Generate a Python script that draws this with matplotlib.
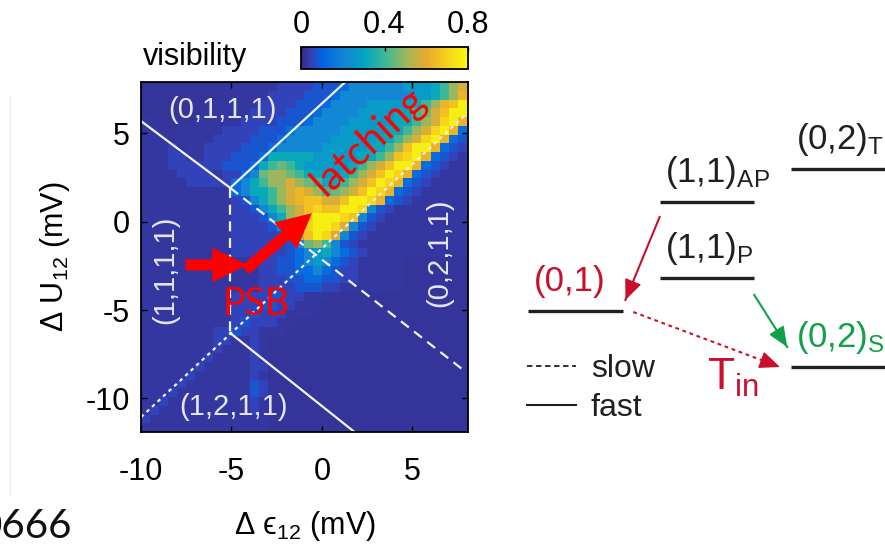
import numpy as np
import matplotlib
matplotlib.use('Agg')
import matplotlib.pyplot as plt
import matplotlib.colors as mcolors
from matplotlib.lines import Line2D

plt.rcParams['font.family'] = ['Liberation Sans', 'DejaVu Sans']
plt.rcParams['mathtext.fontset'] = 'custom'
plt.rcParams['mathtext.rm'] = 'Liberation Sans'
plt.rcParams['mathtext.it'] = 'Liberation Sans'
plt.rcParams['mathtext.default'] = 'rm'
plt.rcParams['axes.unicode_minus'] = False

# ---------------- data ----------------
# visibility map, read cell by cell (0.5 mV pixels), top row first
eps_start, eps_step, n_cols = -10.0, 0.5, 37
u_top, u_bottom, n_rows = 7.9, -11.9, 40
vis_code = {'0': .02, 'a': .026, '1': .05, 'b': .08, '2': .13, 'c': .21,
            '3': .27, 'd': .32, '4': .40, 'e': .45, '5': .50, 'f': .55,
            '6': .58, 'g': .63, '7': .66, 'h': .71, '8': .77}
vis_rows = [
    "0000000000aaaaa1111bbb2cccccc333d4565",
    "000000000aaaaa1111bbb2cccccccc33d45g8",
    "00000000aaaaa1111bbb2cccc3333dd45g787",
    "0000000aaaaa1111bbb2cccc3333dd4e6788g",
    "a00000aaaaa1111bbb2cccc33333dd456h8gc",
    "aa00aaaaa1111bbb2ccccc33333dd456h8g2b",
    "aaa0aaaa1111bbb2ccccc33333dd456h8g2b1",
    "aaa10aa1111bbb2ccccc33333dd45788g2b1a",
    "aaa11aa111bbb2ddddd33333dd457h8g2b1aa",
    "aaa111111bbb2d4e4d33333d456788g2b1aaa",
    "aaaa1111a112ce55e4dd33d45678hg2b1aaaa",
    "a" * 5 + "11111" + "2cd45565e4" + "dd" + "45678hg2b1" + "a" * 5,
    "a" * 10 + "2cdd456g654e5678hg2b1" + "a" * 6,
    "a" * 10 + "1bcd456g7766788hg2b1" + "a" * 7,
    "a" * 10 + "11bcd4567h7788hcb1" + "a" * 9,
    "a" * 10 + "111bcd56h888h7cb1" + "a" * 10,
    "a" * 10 + "1111bce6h88h6cb1" + "a" * 11,
    "a" * 10 + "11111bd578h6cb1" + "a" * 12,
    "a" * 10 + "111111bce54cb1" + "a" * 13,
    "a" * 10 + "111111b2c3dc2b1" + "a" * 12,
    "a" * 13 + "11bb2c3c2b1" + "a" * 5 + "0" * 8,
    "a" * 13 + "11bb22c2b11" + "a" * 5 + "0" * 8,
    "a" * 13 + "111bb22bb11" + "a" * 5 + "0" * 8,
    "a" * 13 + "1111bbb11" + "a" * 7 + "0" * 8,
    "a" * 10 + "1111bb11aaa" + "0" * 16,
    "a" * 10 + "111bb11aaa" + "0" * 17,
    "a" * 10 + "11b111aaa" + "0" * 18,
    "a" * 10 + "1b111aa" + "0" * 20,
    "a" * 8 + "11b11aaa" + "0" * 21,
    "a" * 8 + "11aa1a" + "0" * 23,
    "a" * 7 + "a1aaa1a" + "0" * 23,
    "a" * 6 + "a1aaaa1a" + "0" * 23,
    "a" * 5 + "a1aaaaa11" + "0" * 23,
    "a" * 4 + "a1aaaaaa1a" + "0" * 23,
    "a" * 3 + "a1aaaaaaab1" + "0" * 23,
    "a" * 2 + "a1aaaaaaaab1" + "0" * 23,
    "a" + "a1aaaaaaaaa1a" + "0" * 23,
    "a1aaaaaaaaaa1a" + "0" * 23,
    "1aaaaaaaaaaaaa" + "0" * 23,
    "a" * 14 + "0" * 23,
]

x_ticks = [-10, -5, 0, 5]
y_ticks = [-10, -5, 0, 5]
cbar_ticks = [0, 0.4, 0.8]
cbar_ticklabels = ['0', '0.4', '0.8']

# charge-state boundaries (mV)
solid_lines = [[(-10.0, 5.69), (-5.07, 1.91), (1.29, 7.9)],
               [(-5.07, -6.3), (1.8, -11.9)]]
dashed_lines = [[(-5.07, 1.91), (-5.07, -6.3)],
                [(-5.07, 1.91), (7.81, -8.39)]]
dotted_lines = [[(-10.0, -11.06), (8.1, 6.21)]]

state_labels = ['(0,1,1,1)', '(1,1,1,1)', '(0,2,1,1)', '(1,2,1,1)']
state_xy = [(-5.51, 6.32), (-8.66, -2.73), (6.48, -1.77), (-4.9, -10.49)]
state_rot = [0, 90, 90, 0]

# red annotations: PSB arrow and latching arrow
psb_arrow = [(-7.55, -2.45), (-4.14, -2.45)]
latch_arrow = [(-4.24, -2.73), (-0.55, 0.48)]

# energy diagram (arbitrary energy units)
level_labels = ['(0,1)', '(1,1)$_{\\mathrm{AP}}$', '(1,1)$_{\\mathrm{P}}$',
                '(0,2)$_{\\mathrm{T}}$', '(0,2)$_{\\mathrm{S}}$']
level_column = [0, 1, 1, 2, 2]
level_energy = [5.6, 16.5, 8.9, 19.8, 0.0]
# transitions: (from level, to level, speed)
transitions = [(1, 0, 'fast'), (2, 4, 'fast'), (0, 4, 'slow')]

# ---------------- style ----------------
W, H = 885, 551
RED = '#ff0000'
DRED = '#c8102e'
GREEN = '#10a04a'
INK = '#231f20'
parula = mcolors.LinearSegmentedColormap.from_list('parula', [
    (0.0, (0.2081, 0.1663, 0.5292)), (4 / 63, (0.1959, 0.2645, 0.7279)),
    (8 / 63, (0.0117, 0.3875, 0.8820)), (16 / 63, (0.0749, 0.5205, 0.8312)),
    (24 / 63, (0.0066, 0.6475, 0.7641)), (32 / 63, (0.2470, 0.7250, 0.5912)),
    (40 / 63, (0.6302, 0.7141, 0.3472)), (48 / 63, (0.9256, 0.6693, 0.1715)),
    (56 / 63, (0.9682, 0.8373, 0.1040)), (1.0, (0.9763, 0.9831, 0.0538))])


def box(l, t, r, b):
    return [l / W, 1 - b / H, (r - l) / W, (b - t) / H]


fig = plt.figure(figsize=(W / 100, H / 100), dpi=100)

# ---------------- visibility map ----------------
ax = fig.add_axes(box(141, 82, 468.5, 432))
Z = np.array([[vis_code[c] for c in row.ljust(n_cols, '0')[:n_cols]] for row in vis_rows])
x_edges = eps_start + eps_step * np.arange(n_cols + 1)
y_edges = np.linspace(u_top, u_bottom, n_rows + 1)
mesh = ax.pcolormesh(x_edges, y_edges, Z, cmap=parula, vmin=0, vmax=0.8, shading='flat')

for seg in solid_lines:
    xs, ys = zip(*seg)
    ax.plot(xs, ys, color='#f2f2f2', lw=1.6)
for seg in dashed_lines:
    xs, ys = zip(*seg)
    ax.plot(xs, ys, color='#f2f2f2', lw=1.6, ls=(0, (4.5, 3)))
for seg in dotted_lines:
    xs, ys = zip(*seg)
    ax.plot(xs, ys, color='#f2f2f2', lw=1.6, ls=(0, (1.6, 1.8)))

for lab, (x, y), rot in zip(state_labels, state_xy, state_rot):
    ax.text(x, y, lab, color='#e6e6f2', fontsize=21, rotation=rot,
            ha='center', va='center')

ax.text(2.6, 4.55, 'latching', color=RED, fontsize=29, rotation=42.6,
        rotation_mode='anchor', ha='center', va='center', family=['Lato', 'DejaVu Sans'])
ax.text(-3.63, -4.66, 'PSB', color=RED, fontsize=27, ha='center', va='center',
        family=['Lato', 'DejaVu Sans'])
for tail, tip in (psb_arrow, latch_arrow):
    ax.annotate('', xy=tip, xytext=tail,
                arrowprops=dict(arrowstyle='simple,head_length=2.5,head_width=2.5,tail_width=0.8',
                                color=RED, lw=0, shrinkA=0, shrinkB=0, mutation_scale=10))

ax.set_xlim(-10, 8.1)
ax.set_ylim(-11.9, 7.9)
ax.set_xticks(x_ticks)
ax.set_yticks(y_ticks)
ax.tick_params(direction='in', top=True, right=True, length=4, width=1, labelsize=22)
ax.tick_params(axis='x', pad=18)
ax.tick_params(axis='y', pad=8)
for s in ax.spines.values():
    s.set_linewidth(1.3)
ax.set_xlabel('Δ ϵ$_{12}$ (mV)', fontsize=22, labelpad=16)
ax.set_ylabel('Δ U$_{12}$ (mV)', fontsize=22, labelpad=10)

# colorbar
cax = fig.add_axes(box(301, 47, 468, 69))
cb = fig.colorbar(mesh, cax=cax, orientation='horizontal', ticks=cbar_ticks)
cax.xaxis.set_ticks_position('top')
cax.set_xticklabels(cbar_ticklabels)
cax.tick_params(direction='in', length=3, width=1, labelsize=22, pad=5)
cb.outline.set_linewidth(1.3)
fig.text(143 / W, 1 - 65 / H, 'visibility', fontsize=22, va='baseline', ha='left')

# ---------------- energy diagram ----------------
dg = fig.add_axes(box(500, 100, 885, 450))
dg.set_xlim(-0.574, 2.354)
dg.set_ylim(-8.3, 26.7)
dg.axis('off')
half = 0.36
label_colors = [DRED, INK, INK, INK, GREEN]
for lab, col, e, c in zip(level_labels, level_column, level_energy, label_colors):
    dg.plot([col - half, col + half], [e, e], color=INK, lw=2.4, solid_capstyle='butt')
    dg.text(col - half + 0.04, e + 2.0, lab, color=c, fontsize=25, ha='left', va='baseline')


def level_arrow(p0, p1, color, ls):
    dg.plot([p0[0], p1[0]], [p0[1], p1[1]], color=color, lw=1.5, ls=ls)
    d = np.array(p1) - np.array(p0)
    back = np.array(p1) - 0.05 * d
    dg.annotate('', xy=p1, xytext=back,
                arrowprops=dict(arrowstyle='-|>,head_length=0.8,head_width=0.34',
                                color=color, lw=1.0, shrinkA=0, shrinkB=0, mutation_scale=16))


for src, dst, speed in transitions:
    cs, es = level_column[src], level_energy[src]
    cd, ed = level_column[dst], level_energy[dst]
    if speed == 'slow':
        level_arrow((cs + half + 0.08, es - 0.1), (cd - half - 0.085, ed), DRED, (0, (1.8, 1.8)))
    elif cd < cs:
        level_arrow((cs - half, es - 1.5), (cd + half + 0.02, ed + 1.1), DRED, '-')
    else:
        level_arrow((cs + half, es - 1.7), (cd - half - 0.03, ed + 2.0), GREEN, '-')

dg.text(1.0, -2.3, 'T$_{\\mathrm{in}}$', color=DRED, fontsize=32, ha='left', va='baseline')

handles = [Line2D([], [], color=INK, lw=1.3, ls=(0, (3, 2))),
           Line2D([], [], color=INK, lw=1.5)]
leg = dg.legend(handles, ['slow', 'fast'], loc='upper left', bbox_to_anchor=(0.07, 0.275),
                frameon=False, fontsize=23, handlelength=1.55, handletextpad=0.45,
                labelspacing=0.3, borderpad=0, borderaxespad=0)
for t in leg.get_texts():
    t.set_color(INK)

# page residue at the left edge
fig.add_artist(Line2D([10 / W, 10 / W], [1 - 95 / H, 1 - 495 / H], color='#ececec', lw=0.8))
fig.text(72 / W, 1 - 538 / H, '0666', fontsize=29, ha='right', va='baseline',
         family=['Lato', 'DejaVu Sans'], color='#111111')

fig.savefig('out.png', dpi=100)
